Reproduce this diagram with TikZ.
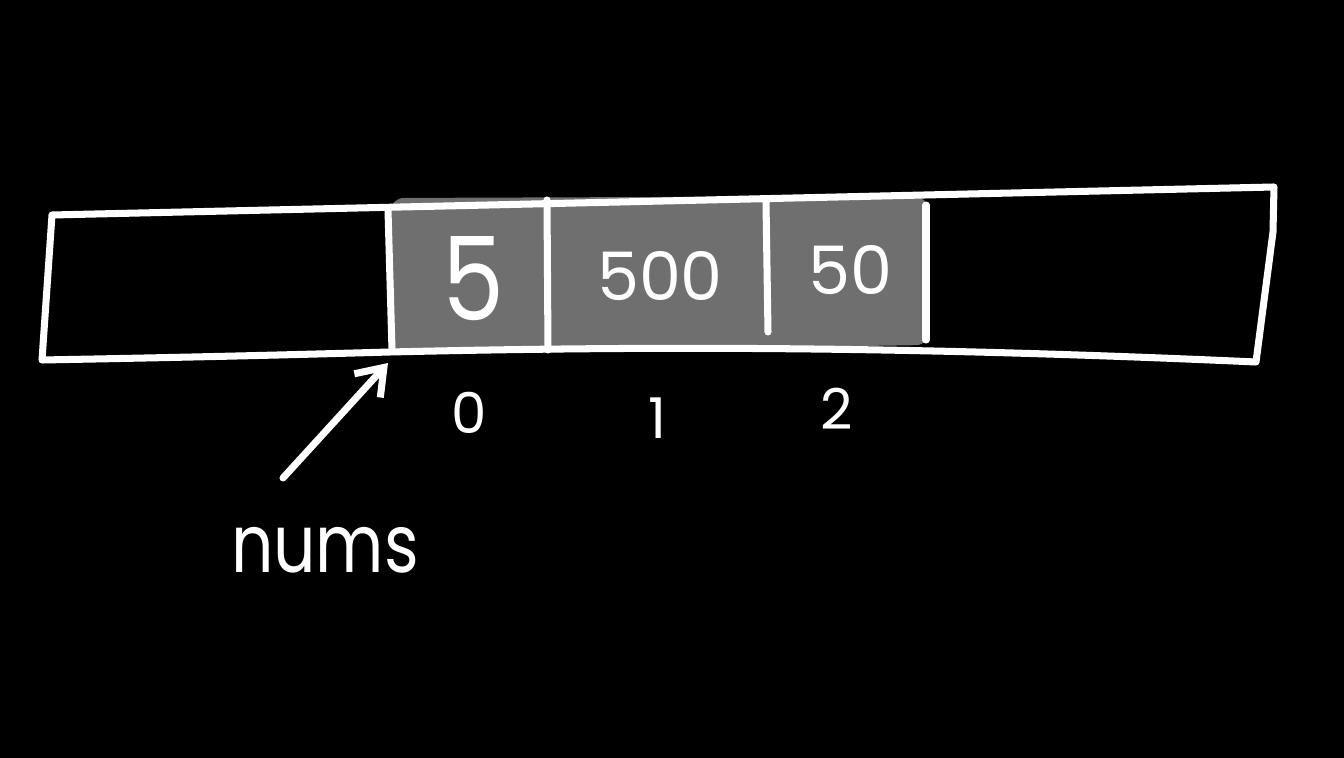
\documentclass[tikz,border=0pt]{standalone}
\usepackage{fontspec}
\setmainfont{Poppins}
\usetikzlibrary{arrows.meta,positioning}
\definecolor{boardbg}{HTML}{000000}
\definecolor{cellgray}{HTML}{6F6F6F}

\begin{document}
\begin{tikzpicture}[x=0.01cm, y=-0.01cm,
    chalk/.style={draw=white, line width=2pt, line cap=round, line join=round},
    val/.style={text=white, inner sep=0pt},
    idx/.style={text=white, inner sep=0pt, font=\fontsize{16}{18}\selectfont}
  ]
  % Board
  \fill[boardbg] (0,0) rectangle (1344,758);
  \useasboundingbox (0,0) rectangle (1344,758);

  % Filled cells
  \fill[cellgray, rounded corners=4pt] (390,198) -- (928,196) -- (930,345) -- (390,353) -- cycle;

  % Memory strip
  \draw[chalk] (52,215) -- (1274,187) -- (1273,232) -- (1256,362)
    .. controls (900,346) and (650,346) .. (390,352)
    .. controls (250,356) and (150,358) .. (42,360) -- (52,215) -- cycle;

  % Cell borders
  \draw[chalk] (388,210) -- (392,350);
  \draw[chalk] (547,200) -- (548,350);
  \draw[chalk] (766,202) -- (768,332);
  \draw[chalk] (926,205) -- (926,340);

  % Values
  \node[val, font=\fontsize{33}{36}\selectfont, xscale=0.85] (v0) at (473,279) {5};
  \node[val, font=\fontsize{19}{22}\selectfont] (v1) at (660,276) {500};
  \node[val, font=\fontsize{19}{22}\selectfont] (v2) at (850,270) {50};

  % Indices
  \node[idx] (i0) at (469,413) {0};
  \node[idx] (i1) at (658,418) {1};
  \node[idx] (i2) at (837,409) {2};

  % Pointer
  \node[val, font=\fontsize{23}{26}\selectfont, xscale=0.82] (nums) at (325,550) {nums};
  \coordinate (tail) at (283,478);
  \coordinate (c0) at (388,363);
  \draw[chalk, -{Straight Barb[length=7pt, width=10pt]}] (tail) -- (c0);
\end{tikzpicture}
\end{document}
